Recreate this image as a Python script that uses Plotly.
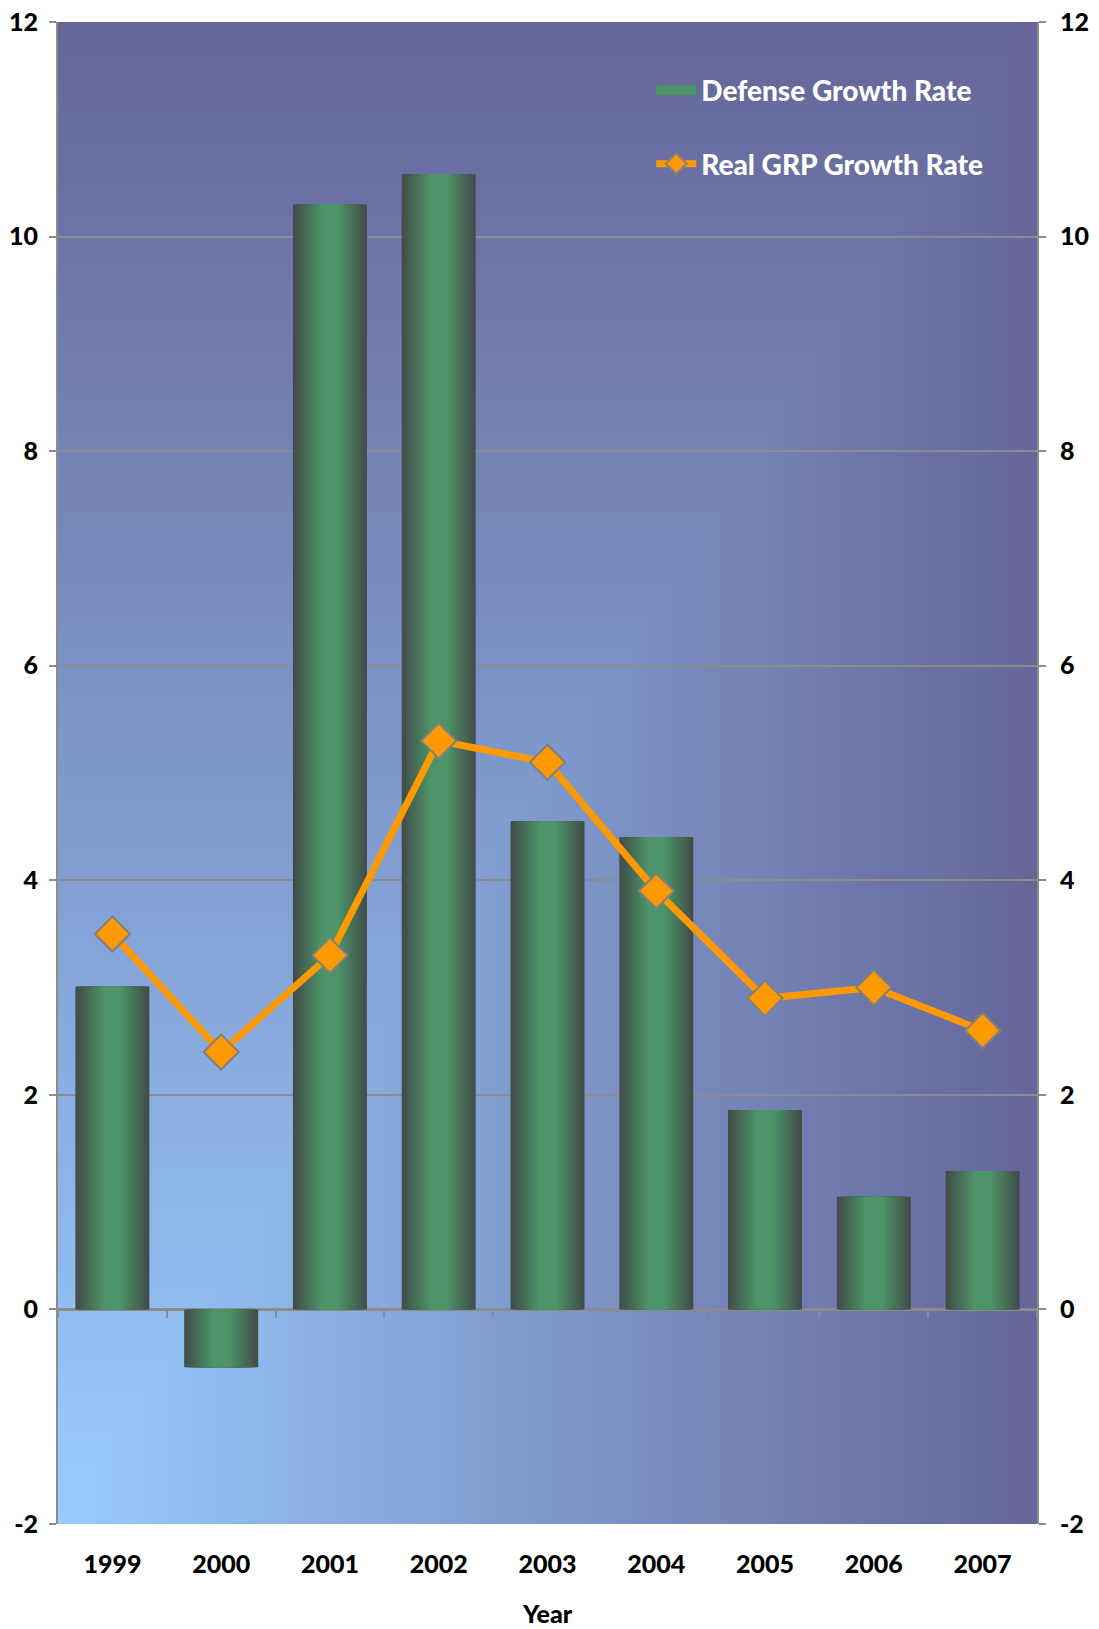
import base64
import struct
import zlib

import numpy as np
import plotly.graph_objects as go

# ---------------- data ----------------
years = ["1999", "2000", "2001", "2002", "2003", "2004", "2005", "2006", "2007"]
defense_growth = [3.01, -0.54, 10.30, 10.58, 4.55, 4.40, 1.86, 1.05, 1.29]
real_grp_growth = [3.5, 2.4, 3.3, 5.3, 5.1, 3.9, 2.9, 3.0, 2.6]
y_ticks = [-2, 0, 2, 4, 6, 8, 10, 12]
y_tick_labels = ["-2", "0", "2", "4", "6", "8", "10", "12"]

# ---------------- background gradient (from bottom-left corner) ----------------
def make_png(arr):
    h, w, _ = arr.shape
    raw = b"".join(b"\x00" + arr[r].tobytes() for r in range(h))

    def chunk(tag, data):
        c = struct.pack(">I", len(data)) + tag + data
        return c + struct.pack(">I", zlib.crc32(tag + data) & 0xFFFFFFFF)

    png = b"\x89PNG\r\n\x1a\n"
    png += chunk(b"IHDR", struct.pack(">IIBBBBB", w, h, 8, 2, 0, 0, 0))
    png += chunk(b"IDAT", zlib.compress(raw, 9))
    png += chunk(b"IEND", b"")
    return "data:image/png;base64," + base64.b64encode(png).decode()


GW, GH = 245, 376
c_corner = np.array([153, 204, 255], dtype=float)
c_far = np.array([102, 102, 153], dtype=float)
jj = np.arange(GW)[None, :] / (GW - 1)
ii = (GH - 1 - np.arange(GH))[:, None] / (GH - 1)
t = np.maximum(np.broadcast_to(jj, (GH, GW)), np.broadcast_to(ii, (GH, GW)))
img = c_corner[None, None, :] + (c_far - c_corner)[None, None, :] * t[:, :, None]
bg_src = make_png(np.clip(img, 0, 255).astype(np.uint8))

# ---------------- figure ----------------
fig = go.Figure()

# bars with a horizontal (cylinder-like) gradient built from overlaid layers
edge = np.array([66, 78, 74], dtype=float)
center = np.array([77, 148, 104], dtype=float)
N = 14
full_w = 0.68
for k in range(N):
    d = 1 - k / N  # normalized distance from centre
    f = min(1.0, max(0.0, (d - 0.25) / 0.75))
    col = center + (edge - center) * f
    fig.add_trace(go.Bar(
        x=years, y=defense_growth,
        width=full_w * d,
        marker=dict(color="rgb(%d,%d,%d)" % tuple(col.round()), line=dict(width=0)),
        name="Defense Growth Rate",
        legendgroup="def",
        showlegend=False,
        xaxis="x", yaxis="y",
        hoverinfo="skip",
    ))

# legend entry for the bars (wide green swatch)
fig.add_trace(go.Scatter(
    x=[None], y=[None], mode="lines",
    name="Defense Growth Rate", legendgroup="def",
    line=dict(color="rgb(77,148,104)", width=22),
    xaxis="x", yaxis="y", hoverinfo="skip",
))

fig.add_trace(go.Scatter(
    x=years, y=real_grp_growth,
    mode="lines+markers",
    name="Real GRP Growth Rate",
    legendgroup="grp",
    line=dict(color="#FF9900", width=7),
    marker=dict(symbol="diamond", size=27, color="#FF9900",
                line=dict(color="#808080", width=2)),
    xaxis="x2", yaxis="y2",
    hoverinfo="skip",
))

grid_col = "#8C8C8C"
tick_font = dict(family="Lato, DejaVu Sans, sans-serif", size=25, color="black", weight=900)
year_font = dict(family="Lato, DejaVu Sans, sans-serif", size=25, color="black", weight=900)

fig.update_layout(
    width=1099, height=1629,
    margin=dict(l=58, r=62, t=22, b=105, autoexpand=False),
    paper_bgcolor="white",
    plot_bgcolor="rgba(0,0,0,0)",
    barmode="overlay",
    hovermode=False,
    images=[dict(source=bg_src, xref="paper", yref="paper", x=0, y=1,
                 sizex=1, sizey=1, sizing="stretch", layer="below")],
    xaxis=dict(
        type="category", categoryorder="array", categoryarray=years,
        range=[-0.5, 8.5], showgrid=False, showline=False, zeroline=False,
        ticks="", tickfont=year_font, ticklabelstandoff=23, automargin=False,
        title=dict(text="Year", font=year_font, standoff=28),
    ),
    xaxis2=dict(
        type="category", categoryorder="array", categoryarray=years,
        range=[-0.5, 8.5], overlaying="x", anchor="free", position=2 / 14,
        side="bottom", showgrid=False, showline=False, zeroline=False,
        showticklabels=False, ticks="outside", tickson="boundaries",
        ticklen=8, tickwidth=2, tickcolor=grid_col, automargin=False,
    ),
    yaxis=dict(
        range=[-2, 12], tickvals=y_ticks, ticktext=y_tick_labels,
        showgrid=True, gridcolor=grid_col,
        gridwidth=2, zeroline=True, zerolinecolor=grid_col, zerolinewidth=3,
        showline=True, linecolor=grid_col, linewidth=2,
        ticks="outside", ticklen=7, tickwidth=2, tickcolor=grid_col,
        tickfont=tick_font, ticklabelstandoff=6, automargin=False,
    ),
    yaxis2=dict(
        range=[-2, 12], tickvals=y_ticks, ticktext=y_tick_labels,
        overlaying="y", side="right",
        anchor="x", showgrid=False, zeroline=False,
        showline=True, linecolor=grid_col, linewidth=2,
        ticks="outside", ticklen=7, tickwidth=2, tickcolor=grid_col,
        tickfont=tick_font, ticklabelstandoff=9, automargin=False,
    ),
    legend=dict(
        x=0.606, y=0.971, xanchor="left", yanchor="top",
        bgcolor="rgba(0,0,0,0)", borderwidth=0,
        font=dict(family="Lato, DejaVu Sans, sans-serif", size=28,
                  color="white", weight=900),
        tracegroupgap=34, itemwidth=40,
    ),
)

fig.write_html("out.html")
